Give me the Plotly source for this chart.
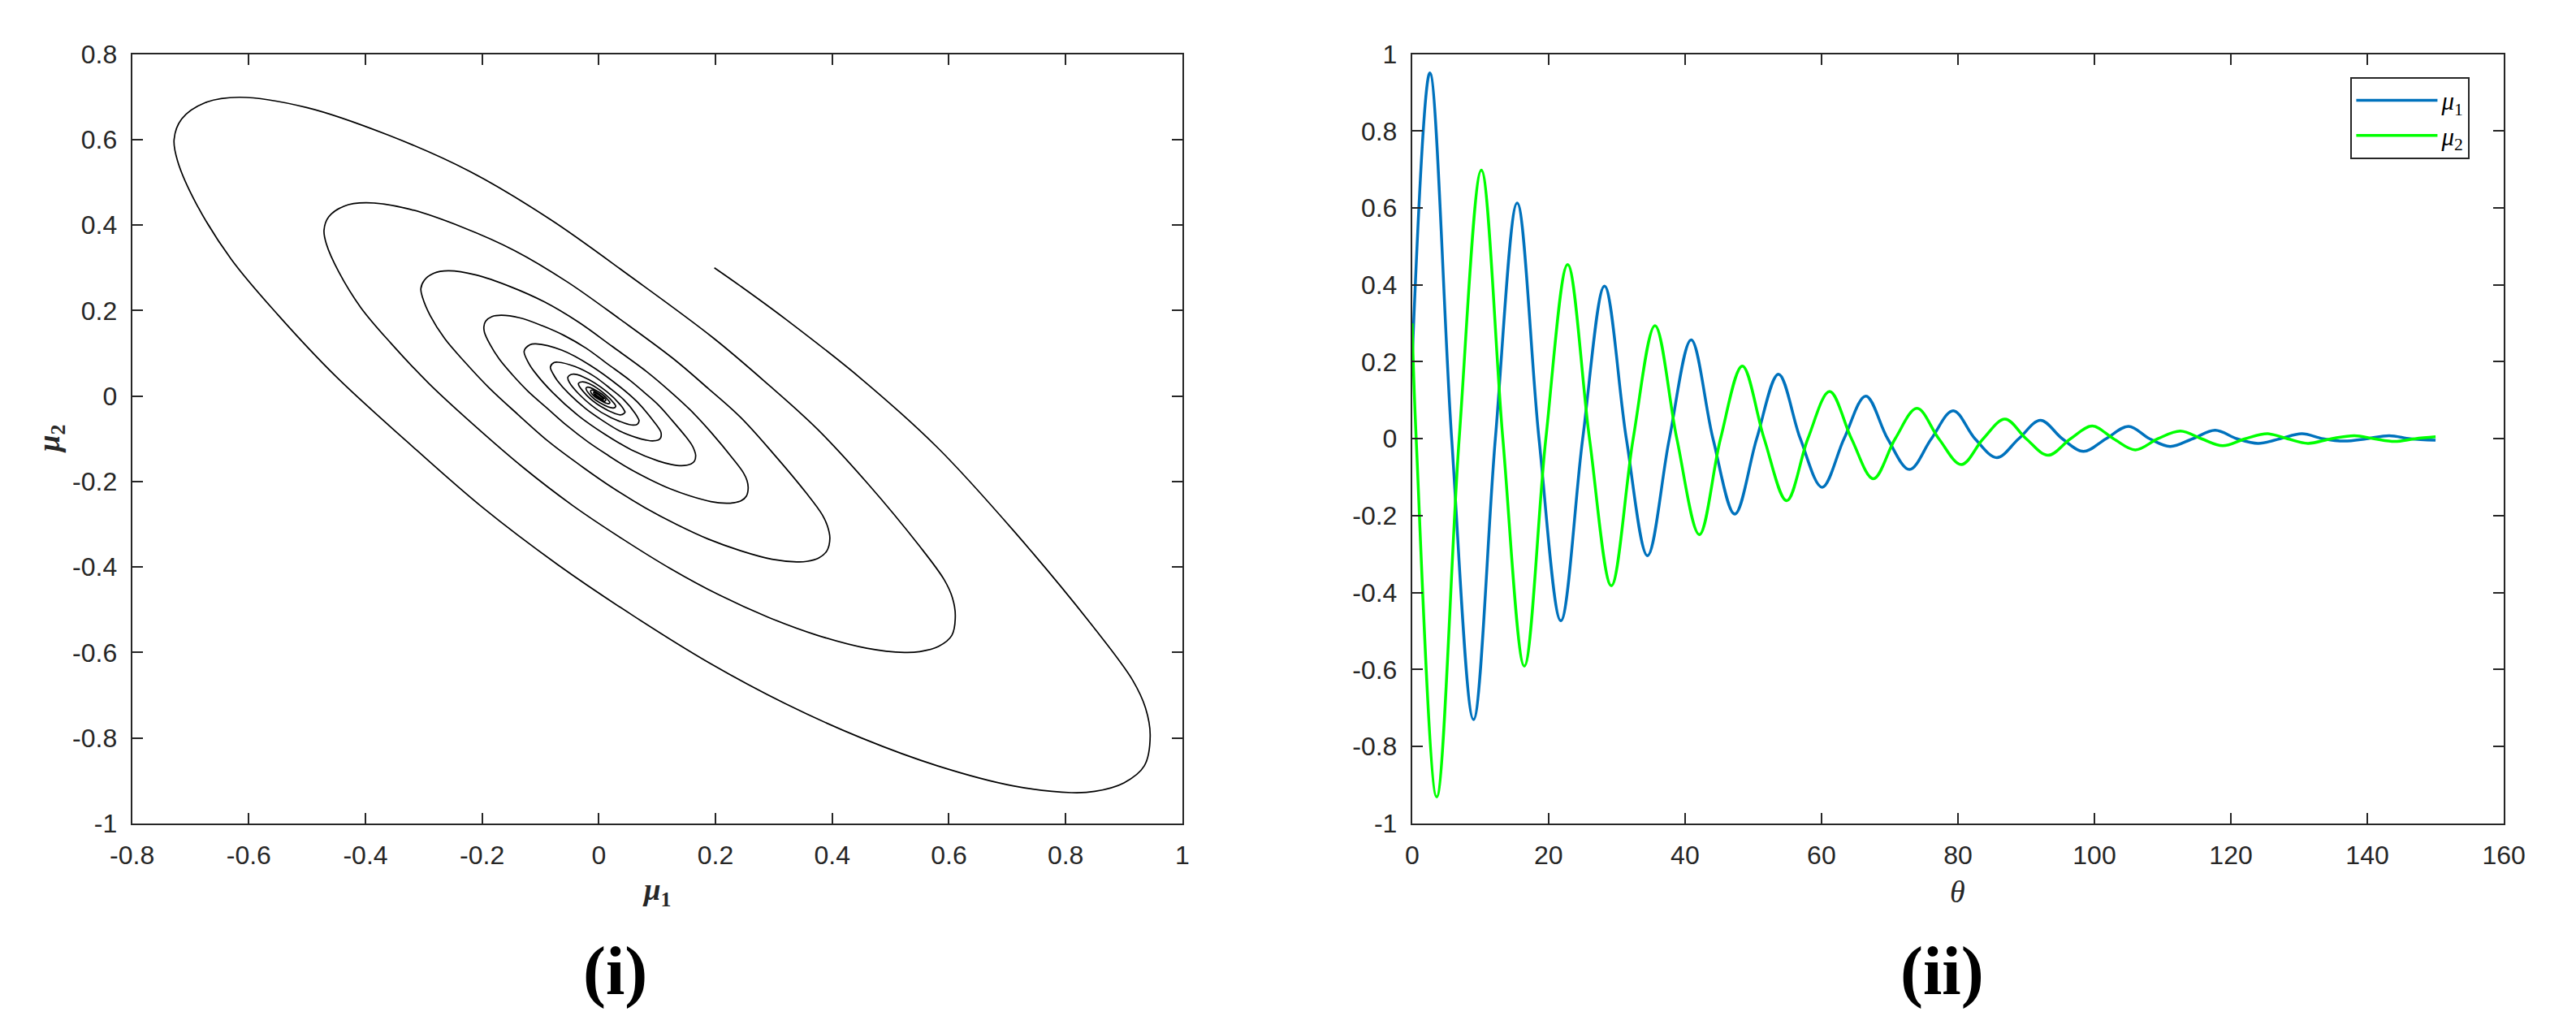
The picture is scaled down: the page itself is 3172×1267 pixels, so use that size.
import plotly.graph_objects as go

# ---------------- data ----------------
# (ii) time series: extrema and zero crossings
theta_mu1 = [0, 2.6, 5.8, 9.0, 12.2, 15.4, 18.6, 21.8, 25.0, 28.2, 31.4, 34.5, 37.7, 40.9,
             44.1, 47.3, 50.5, 53.7, 56.9, 60.1, 63.3, 66.5, 69.7, 72.9, 76.1, 79.3, 82.5,
             85.7, 88.9, 92.1, 95.3, 98.4, 101.7, 105.0, 108.1, 111.1, 114.4, 117.7, 120.9,
             124.0, 127.2, 130.4, 133.5, 136.6, 139.9, 143.2, 146.3, 150.0]
mu1_series = [0.20, 0.951, 0, -0.730, 0, 0.613, 0, -0.473, 0, 0.397, 0, -0.304, 0, 0.257,
              0, -0.196, 0, 0.168, 0, -0.126, 0, 0.111, 0, -0.080, 0, 0.073, 0,
              -0.049, 0, 0.048, 0, -0.033, 0, 0.032, 0, -0.020, 0, 0.022, 0,
              -0.012, 0, 0.013, 0, -0.006, 0, 0.008, 0, -0.004]

theta_mu2 = [0, 0.6, 3.6, 6.9, 10.15, 13.3, 16.45, 19.6, 22.8, 26.0, 29.2, 32.4, 35.6, 38.8,
             42.1, 45.2, 48.4, 51.6, 54.9, 58.0, 61.2, 64.4, 67.6, 70.8, 74.0, 77.2, 80.5,
             83.7, 86.9, 90.0, 93.2, 96.5, 99.7, 102.8, 106.0, 109.3, 112.6, 115.7, 118.8,
             122.1, 125.4, 128.3, 131.3, 134.7, 138.1, 141.0, 144.0, 147.0, 150.0]
mu2_series = [0.30, 0, -0.931, 0, 0.698, 0, -0.591, 0, 0.453, 0, -0.382, 0, 0.294, 0,
              -0.249, 0, 0.189, 0, -0.161, 0, 0.123, 0, -0.104, 0, 0.079, 0, -0.067,
              0, 0.051, 0, -0.043, 0, 0.033, 0, -0.029, 0, 0.020, 0, -0.018,
              0, 0.013, 0, -0.012, 0, 0.008, 0, -0.007, 0, 0.005]

# (i) phase portrait: (mu1, mu2) points read along the spiral, in drawing order
spiral_start = [(0.198, 0.30), (0.243, 0.257), (0.32, 0.18), (0.45, 0.04), (0.58, -0.12),
                (0.712, -0.317), (0.848, -0.541), (0.915, -0.665), (0.937, -0.73)]
spiral_turn1 = [(0.945, -0.795), (0.935, -0.865), (0.90, -0.905), (0.85, -0.925), (0.81, -0.928),
                (0.71, -0.912), (0.58, -0.865), (0.45, -0.80), (0.32, -0.72), (0.19, -0.625),
                (0.06, -0.515), (-0.07, -0.395), (-0.20, -0.26), (-0.33, -0.105), (-0.45, 0.045),
                (-0.55, 0.19), (-0.63, 0.32), (-0.69, 0.45), (-0.722, 0.55), (-0.728, 0.60),
                (-0.715, 0.648), (-0.675, 0.686), (-0.616, 0.699), (-0.501, 0.675), (-0.362, 0.611),
                (-0.222, 0.526), (-0.083, 0.413), (0.056, 0.278), (0.196, 0.136), (0.291, 0.026),
                (0.375, -0.078), (0.461, -0.205), (0.549, -0.350), (0.592, -0.430), (0.606, -0.472)]
spiral_turn2 = [(0.611, -0.514), (0.605, -0.560), (0.582, -0.586), (0.550, -0.598), (0.524, -0.600),
                (0.459, -0.590), (0.375, -0.560), (0.291, -0.518), (0.207, -0.466), (0.123, -0.404),
                (0.039, -0.333), (-0.045, -0.256), (-0.129, -0.168), (-0.214, -0.068), (-0.291, 0.029),
                (-0.356, 0.123), (-0.408, 0.207), (-0.446, 0.291), (-0.467, 0.356), (-0.471, 0.388),
                (-0.463, 0.419), (-0.437, 0.444), (-0.399, 0.452), (-0.324, 0.437), (-0.234, 0.395),
                (-0.144, 0.340), (-0.054, 0.267), (0.036, 0.180), (0.127, 0.088), (0.188, 0.017),
                (0.243, -0.050), (0.298, -0.133), (0.355, -0.226), (0.383, -0.278), (0.392, -0.305)]
spiral_turn3 = [(0.396, -0.333), (0.391, -0.362), (0.377, -0.379), (0.356, -0.387), (0.339, -0.388),
                (0.297, -0.382), (0.243, -0.362), (0.188, -0.335), (0.134, -0.301), (0.080, -0.262),
                (0.025, -0.216), (-0.029, -0.165), (-0.084, -0.109), (-0.138, -0.044), (-0.188, 0.019),
                (-0.230, 0.080), (-0.264, 0.134), (-0.289, 0.188), (-0.302, 0.230), (-0.305, 0.251),
                (-0.299, 0.271), (-0.283, 0.287), (-0.258, 0.293), (-0.210, 0.283), (-0.152, 0.256),
                (-0.093, 0.220), (-0.035, 0.173), (0.023, 0.116), (0.082, 0.057), (0.122, 0.011),
                (0.157, -0.033), (0.193, -0.086), (0.230, -0.147), (0.248, -0.180), (0.254, -0.198)]
spiral_turn4 = [(0.256, -0.215), (0.253, -0.234), (0.244, -0.245), (0.230, -0.250), (0.219, -0.251),
                (0.192, -0.247), (0.157, -0.234), (0.122, -0.217), (0.087, -0.195), (0.051, -0.169),
                (0.016, -0.139), (-0.019, -0.107), (-0.054, -0.070), (-0.089, -0.028), (-0.122, 0.012),
                (-0.149, 0.051), (-0.171, 0.087), (-0.187, 0.122), (-0.196, 0.149), (-0.197, 0.162),
                (-0.194, 0.175), (-0.183, 0.186), (-0.167, 0.189), (-0.136, 0.183), (-0.098, 0.165),
                (-0.060, 0.142), (-0.022, 0.112), (0.015, 0.075), (0.053, 0.037), (0.079, 0.007),
                (0.102, -0.021), (0.125, -0.056), (0.149, -0.095), (0.160, -0.116), (0.164, -0.128)]
spiral_turn5 = [(0.166, -0.139), (0.164, -0.152), (0.158, -0.159), (0.142, -0.163), (0.124, -0.160),
                (0.102, -0.152), (0.056, -0.126), (0.011, -0.090), (-0.035, -0.046), (-0.079, 0.008),
                (-0.110, 0.056), (-0.121, 0.079), (-0.128, 0.105), (-0.118, 0.120), (-0.108, 0.122),
                (-0.063, 0.107), (-0.015, 0.072), (0.034, 0.024), (0.066, -0.014), (0.095, -0.061),
                (0.106, -0.083)]
spiral_turn6 = [(0.107, -0.090), (0.106, -0.098), (0.102, -0.103), (0.092, -0.105), (0.081, -0.103),
                (0.066, -0.098), (0.036, -0.082), (0.007, -0.058), (-0.023, -0.029), (-0.051, 0.005),
                (-0.071, 0.036), (-0.078, 0.051), (-0.083, 0.068), (-0.077, 0.078), (-0.070, 0.079),
                (-0.041, 0.069), (-0.009, 0.047), (0.022, 0.015), (0.043, -0.009), (0.062, -0.040),
                (0.068, -0.054)]
spiral_core = [(0.069, -0.058), (0.066, -0.066), (0.059, -0.068), (0.043, -0.063), (0.004, -0.038),
               (-0.033, 0.003), (-0.051, 0.033), (-0.053, 0.044), (-0.045, 0.051), (-0.027, 0.045),
               (0.014, 0.010), (0.040, -0.026), (0.044, -0.035),
               (0.045, -0.038), (0.038, -0.044), (0.028, -0.041), (0.003, -0.024), (-0.021, 0.002),
               (-0.035, 0.029), (-0.029, 0.033), (-0.017, 0.029), (0.009, 0.006), (0.026, -0.017),
               (0.029, -0.024), (0.025, -0.028), (0.002, -0.016), (-0.014, 0.001), (-0.022, 0.018),
               (-0.019, 0.021), (0.006, 0.004), (0.017, -0.011),
               (0.019, -0.016), (0.016, -0.018), (-0.009, 0.001), (-0.014, 0.012), (-0.012, 0.014),
               (0.011, -0.007),
               (0.012, -0.010), (0.010, -0.012), (-0.006, 0.001), (-0.009, 0.008), (-0.008, 0.009),
               (0.007, -0.005),
               (0.008, -0.007), (0.007, -0.008), (-0.006, 0.005), (-0.005, 0.006)]

phase_points = (spiral_start + spiral_turn1 + spiral_turn2 + spiral_turn3 + spiral_turn4
                + spiral_turn5 + spiral_turn6 + spiral_core)
phase_mu1 = [p[0] for p in phase_points]
phase_mu2 = [p[1] for p in phase_points]

# tick labels
left_xtick_vals = [-0.8, -0.6, -0.4, -0.2, 0, 0.2, 0.4, 0.6, 0.8, 1]
left_xtick_text = ["-0.8", "-0.6", "-0.4", "-0.2", "0", "0.2", "0.4", "0.6", "0.8", "1"]
left_ytick_vals = [-1, -0.8, -0.6, -0.4, -0.2, 0, 0.2, 0.4, 0.6, 0.8]
left_ytick_text = ["-1", "-0.8", "-0.6", "-0.4", "-0.2", "0", "0.2", "0.4", "0.6", "0.8"]
right_xtick_vals = [0, 20, 40, 60, 80, 100, 120, 140, 160]
right_xtick_text = ["0", "20", "40", "60", "80", "100", "120", "140", "160"]
right_ytick_vals = [-1, -0.8, -0.6, -0.4, -0.2, 0, 0.2, 0.4, 0.6, 0.8, 1]
right_ytick_text = ["-1", "-0.8", "-0.6", "-0.4", "-0.2", "0", "0.2", "0.4", "0.6", "0.8", "1"]

# ---------------- figure ----------------
W, H = 3172, 1267
AX = "#262626"

fig = go.Figure()
fig.add_trace(go.Scatter(x=phase_mu1, y=phase_mu2, mode="lines",
                         line=dict(color="black", width=1.7, shape="spline", smoothing=1),
                         xaxis="x", yaxis="y", showlegend=False, hoverinfo="skip"))
fig.add_trace(go.Scatter(x=theta_mu1, y=mu1_series, mode="lines",
                         name="<i>μ</i><sub>1</sub>",
                         line=dict(color="#0072BD", width=3.5, shape="spline", smoothing=1),
                         xaxis="x2", yaxis="y2"))
fig.add_trace(go.Scatter(x=theta_mu2, y=mu2_series, mode="lines",
                         name="<i>μ</i><sub>2</sub>",
                         line=dict(color="#00FF00", width=3.5, shape="spline", smoothing=1),
                         xaxis="x2", yaxis="y2"))


def ax(**kw):
    d = dict(showline=True, linecolor=AX, linewidth=2, mirror="ticks", ticks="inside",
             ticklen=13, tickwidth=2, tickcolor=AX, showgrid=False, zeroline=False,
             tickmode="array", ticklabelstandoff=10,
             tickfont=dict(family="Liberation Sans, Arial", size=32, color=AX))
    d.update(kw)
    return d


fig.update_layout(
    width=W, height=H,
    margin=dict(l=0, r=0, t=0, b=0),
    paper_bgcolor="white", plot_bgcolor="white",
    xaxis=ax(domain=[137 / W, 1453 / W], range=[-0.8, 1], anchor="y",
             tickvals=left_xtick_vals, ticktext=left_xtick_text),
    yaxis=ax(domain=[1 - 1025 / H, 1 - 50 / H], range=[-1, 0.8], anchor="x",
             tickvals=left_ytick_vals, ticktext=left_ytick_text),
    xaxis2=ax(domain=[1741 / W, 3109 / W], range=[0, 160], anchor="y2",
              tickvals=right_xtick_vals, ticktext=right_xtick_text),
    yaxis2=ax(domain=[1 - 1025 / H, 1 - 50 / H], range=[-1, 1], anchor="x2",
              tickvals=right_ytick_vals, ticktext=right_ytick_text),
    showlegend=True,
    legend=dict(x=2917 / W, y=1 - 79 / H, xanchor="left", yanchor="top",
                bgcolor="white", bordercolor=AX, borderwidth=2, itemwidth=100,
                font=dict(family="Liberation Serif", size=31, color="black")),
)

serif = "Liberation Serif, DejaVu Serif"
annots = [
    dict(text="<b><i>μ</i><sub>1</sub></b>", x=795 / W, y=1 - 1112 / H, textangle=0,
         font=dict(family=serif, size=37, color=AX)),
    dict(text="<i>θ</i>", x=2425 / W, y=1 - 1112 / H, textangle=0,
         font=dict(family=serif, size=38, color=AX)),
    dict(text="<b><i>μ</i><sub>2</sub></b>", x=36 / W, y=1 - 537 / H, textangle=-90,
         font=dict(family=serif, size=37, color=AX)),
    dict(text="<b>(i)</b>", x=742 / W, y=1 - 1212 / H, textangle=0,
         font=dict(family=serif, size=84, color="black")),
    dict(text="<b>(ii)</b>", x=2405 / W, y=1 - 1212 / H, textangle=0,
         font=dict(family=serif, size=84, color="black")),
]
for a in annots:
    fig.add_annotation(xref="paper", yref="paper", xanchor="center", yanchor="middle",
                       showarrow=False, **a)

fig.write_html("out.html", config={"displayModeBar": False},
               post_script="document.body.style.margin='0px';")
